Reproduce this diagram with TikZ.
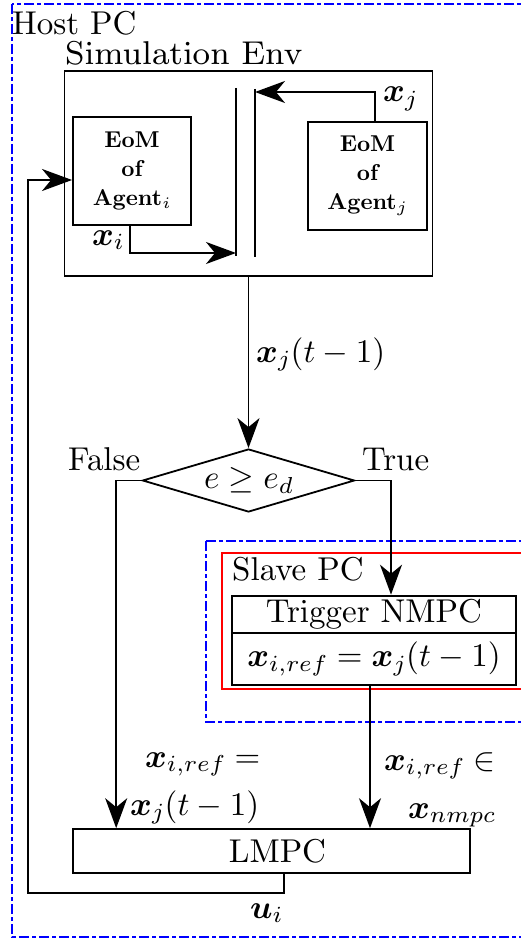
\documentclass[tikz,border=0pt]{standalone}
\usepackage[OT1]{fontenc}
\renewcommand{\rmdefault}{cmr}
\renewcommand{\bfdefault}{bx}
\usepackage{amsmath,bm}
\DeclareFontShape{OT1}{cmr}{m}{n}{<-20>cmr5 <20-28>cmr7 <28->cmr10}{}
\DeclareFontShape{OT1}{cmr}{bx}{n}{<->cmbx10}{}
\DeclareFontShape{OML}{cmm}{m}{it}{<-20>cmmi5 <20-28>cmmi7 <28->cmmi10}{}
\DeclareFontShape{OML}{cmm}{b}{it}{<-20>cmmib5 <20-28>cmmib7 <28->cmmib10}{}
\DeclareFontShape{OMS}{cmsy}{m}{n}{<-20>cmsy5 <20-28>cmsy7 <28->cmsy10}{}
\DeclareFontShape{OMS}{cmsy}{b}{n}{<->cmbsy10}{}
\DeclareFontShape{OMX}{cmex}{m}{n}{<->cmex10}{}
\DeclareMathSizes{33}{33}{23.1}{16.5}
\DeclareMathSizes{22.9}{22.9}{16}{11.5}
\font\simfont=cmr8 at 33pt
\usetikzlibrary{arrows.meta,shapes.geometric,calc}
\begin{document}
\begin{tikzpicture}[x=1pt,y=-1pt,
  font=\fontsize{33}{40}\selectfont,
  >={Stealth[length=30pt,width=22pt,inset=9pt]},
  conn/.style={line width=1.9pt},
  blk/.style={draw,line width=1.9pt,inner sep=0pt},
  eom/.style={blk,minimum width=118pt,minimum height=108pt,align=center,font=\fontsize{22.9}{29}\selectfont\bfseries},
  lbl/.style={inner sep=0pt,anchor=base west},
  hostbox/.style={draw=blue,line width=1.6pt,dash pattern=on 10pt off 3pt on 4pt off 3pt},
  redbox/.style={draw=red,line width=2pt}]
\useasboundingbox (0,0) rectangle (520,941);
% containers
\draw[hostbox] (12,4) rectangle (560,937);
\node[lbl] (host) at (12,35) {Host PC};
\node[blk,minimum width=368pt,minimum height=205pt] (sim) at (248.5,173.5) {};
\node[lbl] (simlbl) at (65,65) {\simfont Simulation Env};
\node[eom] (agi) at (132,171) {EoM\\of\\Agent$_i$};
\node[eom,minimum width=119pt] (agj) at (367.5,176) {EoM\\of\\Agent$_j$};
% bars
\coordinate (b1t) at (236,88); \coordinate (b1b) at (236,256);
\coordinate (b2t) at (255,89); \coordinate (b2b) at (255,257);
\draw[conn] (b1t) -- (b1b);
\draw[conn] (b2t) -- (b2b);
\coordinate (b1in) at (236,253);
\coordinate (b2in) at (255,92);
\draw[conn,->] ([xshift=-2pt]agi.south) |- (b1in);
\draw[conn,->] ([xshift=7.5pt]agj.north) |- (b2in);
\node[lbl] (lxi) at (92,245) {$\bm{x}_i$};
\node[lbl] (lxj) at (383,102) {$\bm{x}_j$};
% decision
\node[draw,diamond,aspect=3.4,line width=1.8pt,inner sep=0pt,minimum width=212pt,minimum height=63pt] (dia) at (248.5,480.5) {$e \geq e_d$};
\draw[conn,->] (sim.south) -- (dia.north);
\node[lbl] (lxjt) at (256,362) {$\bm{x}_j(t-1)$};
\node[lbl] (lfalse) at (68,470) {False};
\node[lbl] (ltrue) at (362,470) {True};
% slave
\draw[hostbox] (206,541) rectangle (560,722);
\draw[redbox] (222,552.5) rectangle (560,689);
\node[lbl] (slave) at (232,580) {Slave PC};
\node[blk,line width=2.6pt,minimum width=284pt,minimum height=37pt] (trig) at (374,614.5) {Trigger NMPC};
\node[blk,line width=2.6pt,minimum width=284pt,minimum height=52pt] (trig2) at (374,659) {$\bm{x}_{i,ref} = \bm{x}_j(t-1)$};
% LMPC
\node[blk,line width=1.6pt,minimum width=397pt,minimum height=44pt] (lmpc) at (271.5,851) {\hspace*{12pt}LMPC};
\draw[conn,->] (dia.west) -| ([xshift=44pt]lmpc.north west);
\draw[conn,->] (dia.east) -| ([xshift=17pt]trig.north);
\draw[conn,->] ([xshift=-4pt]trig2.south) -- ([xshift=-4pt]trig2.south |- lmpc.north);
\coordinate (loopc) at (28,893);
\draw[conn,->] ([xshift=12.5pt]lmpc.south) |- (loopc) |- ([yshift=-9pt]agi.west);
\node[lbl] (lref1) at (145,767) {$\bm{x}_{i,ref} =$};
\node[lbl] (lref2) at (130,815) {$\bm{x}_j(t-1)$};
\node[lbl] (lref3) at (384,770) {$\bm{x}_{i,ref} \in$};
\node[lbl] (lref4) at (408,818) {$\bm{x}_{nmpc}$};
\node[lbl] (lui) at (250,918) {$\bm{u}_i$};
\end{tikzpicture}
\end{document}
